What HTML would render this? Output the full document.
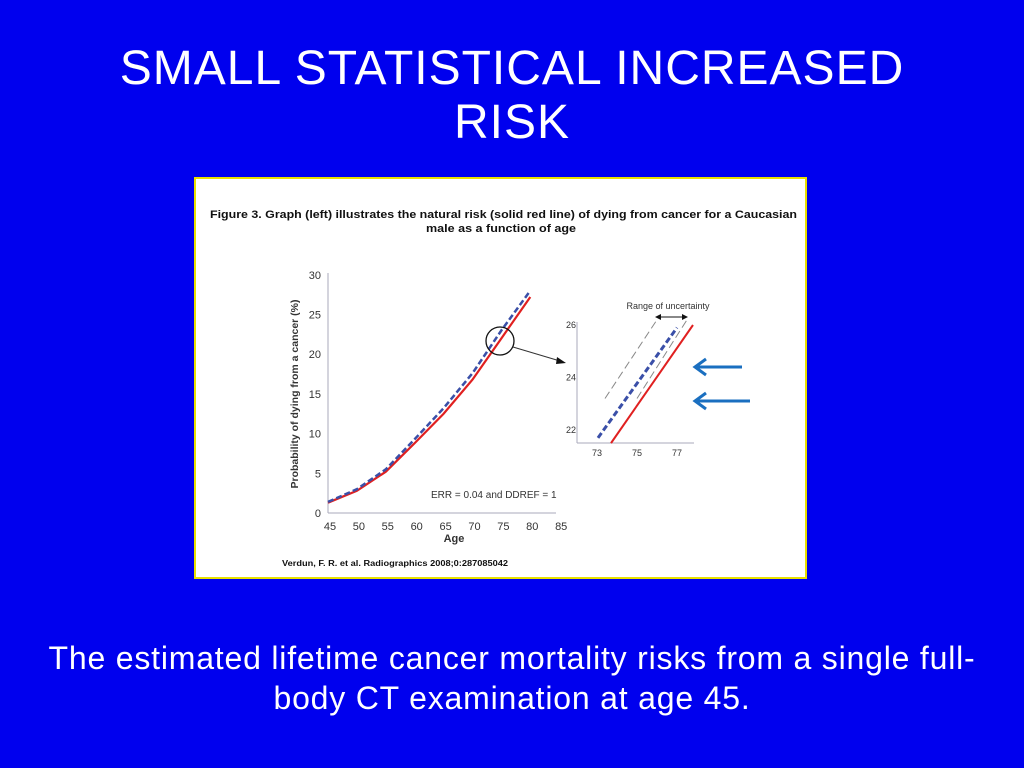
<!DOCTYPE html>
<html><head><meta charset="utf-8"><style>
body{margin:0;width:1024px;height:768px;background:#0000ee;overflow:hidden;font-family:"Liberation Sans",sans-serif;position:relative}
#title{position:absolute;left:0;width:1024px;top:42px;text-align:center;color:#fff;font-size:48px;line-height:54px;letter-spacing:1px;font-family:"Liberation Sans",sans-serif}
#caption{position:absolute;left:0;width:1024px;top:638px;text-align:center;color:#fff;font-size:32px;line-height:40px;letter-spacing:0.8px}
#fig{position:absolute;left:194px;top:177px;width:609px;height:398px;background:#fff;border:2px solid #e8e000}
</style></head><body>
<div id="title">SMALL STATISTICAL INCREASED<br>RISK</div>
<div id="fig"></div>
<svg id="svg" width="1024" height="768" style="position:absolute;left:0;top:0"></svg>
<div id="caption">The estimated lifetime cancer mortality risks from a single full-<br>body CT examination at age 45.</div>
<script>
const ages=[45,50,55,60,65,70,75,80];
const natural=[1.3,2.8,5.2,8.8,12.5,16.8,22.0,27.2];
const withCT=[1.4,3.0,5.5,9.3,13.2,17.6,23.0,28.0];
const xTicks=[45,50,55,60,65,70,75,80,85];
const yTicks=[0,5,10,15,20,25,30];
const insetXTicks=[73,75,77];
const insetYTicks=[22,24,26];
const insetRedAge=[73.7,77.8];const insetRedVal=[21.5,26];
const insetBlueAge=[73.05,77.0];const insetBlueVal=[21.7,25.9];
const insetGreyLAge=[73.4,76.0];const insetGreyLVal=[23.2,26.2];
const insetGreyRAge=[75.0,77.5];const insetGreyRVal=[23.2,26.2];
const svg=document.getElementById('svg');const NS='http://www.w3.org/2000/svg';
function mk(t,a,txt){const e=document.createElementNS(NS,t);for(const k in a)e.setAttribute(k,a[k]);if(txt!=null)e.textContent=txt;svg.appendChild(e);return e;}
const X=a=>328+(a-45)*5.78, Y=v=>513-v*7.94;
const IX=a=>597+(a-73)*20, IY=v=>430-(v-22)*26.25;
let e;
e=mk('text',{x:210,y:218,'font-size':11,'font-weight':'bold',fill:'#111',textLength:587,lengthAdjust:'spacingAndGlyphs'},'Figure 3. Graph (left) illustrates the natural risk (solid red line) of dying from cancer for a Caucasian');

e=mk('text',{x:426,y:232,'font-size':11,'font-weight':'bold',fill:'#111',textLength:150,lengthAdjust:'spacingAndGlyphs'},'male as a function of age');

e=mk('line',{x1:328,y1:273,x2:328,y2:513,stroke:'#aab',"stroke-width":1});

e=mk('line',{x1:328,y1:513,x2:556,y2:513,stroke:'#aab',"stroke-width":1});

yTicks.forEach(v=>{e=mk('text',{x:321,y:Y(v)+4,'text-anchor':'end','font-size':11,fill:'#333'},v);
});
xTicks.forEach(v=>{e=mk('text',{x:X(v)+2,y:530,'text-anchor':'middle','font-size':11,fill:'#333'},v);
});
e=mk('text',{x:454,y:542,'text-anchor':'middle','font-size':11,'font-weight':'bold',fill:'#333'},'Age');

e=mk('text',{x:298,y:394,'text-anchor':'middle','font-size':10.5,'font-weight':'bold',fill:'#333',transform:'rotate(-90 298 394)'},'Probability of dying from a cancer (%)');

e=mk('text',{x:431,y:498,'font-size':10,fill:'#333'},'ERR = 0.04 and DDREF = 1');

e=mk('polyline',{points:ages.map((a,i)=>X(a)+','+Y(natural[i])).join(' '),fill:'none',stroke:'#e02020','stroke-width':2.2});

e=mk('polyline',{points:ages.map((a,i)=>X(a)+','+Y(withCT[i])).join(' '),fill:'none',stroke:'#3a4fa8','stroke-width':2.5,'stroke-dasharray':'6,3'});

e=mk('circle',{cx:500,cy:341,r:14,fill:'none',stroke:'#111','stroke-width':1.3});

e=mk('line',{x1:513,y1:347,x2:560,y2:361,stroke:'#333','stroke-width':1});

mk('polygon',{points:'566,363 557,357 556,364',fill:'#111'});
e=mk('line',{x1:577,y1:322,x2:577,y2:443,stroke:'#aab'});

e=mk('line',{x1:577,y1:443,x2:694,y2:443,stroke:'#aab'});

insetYTicks.forEach(v=>{e=mk('text',{x:576,y:IY(v)+3,'text-anchor':'end','font-size':9,fill:'#333'},v);
});
insetXTicks.forEach(v=>{e=mk('text',{x:IX(v),y:456,'text-anchor':'middle','font-size':9,fill:'#333'},v);
});
function seg(ax,vv,st,w,d,name){e=mk('line',{x1:IX(ax[0]),y1:IY(vv[0]),x2:IX(ax[1]),y2:IY(vv[1]),stroke:st,'stroke-width':w,'stroke-dasharray':d||'none'});
}
seg(insetGreyLAge,insetGreyLVal,'#888',1,'8,4','inset-upper-bound');
seg(insetGreyRAge,insetGreyRVal,'#888',1,'8,4','inset-lower-bound');
seg(insetBlueAge,insetBlueVal,'#3a4fa8',3,'6,3','inset-ct-line');
seg(insetRedAge,insetRedVal,'#e02020',2,null,'inset-natural-line');
e=mk('text',{x:668,y:309,'text-anchor':'middle','font-size':9,fill:'#333'},'Range of uncertainty');

e=mk('line',{x1:659,y1:317,x2:684,y2:317,stroke:'#111'});

mk('polygon',{points:'655,317 661,314 661,320',fill:'#111'});mk('polygon',{points:'688,317 682,314 682,320',fill:'#111'});
e=mk('text',{x:282,y:566,'font-size':8,'font-weight':'bold',fill:'#111',textLength:226,lengthAdjust:'spacingAndGlyphs'},'Verdun, F. R. et al. Radiographics 2008;0:287085042');

[[367,742],[401,750]].forEach(p=>{e=mk('path',{d:`M${p[1]} ${p[0]} L695 ${p[0]} M706 ${p[0]-8} L695 ${p[0]} L706 ${p[0]+8}`,fill:'none',stroke:'#1a6fc0','stroke-width':3});
});
</script>
</body></html>
